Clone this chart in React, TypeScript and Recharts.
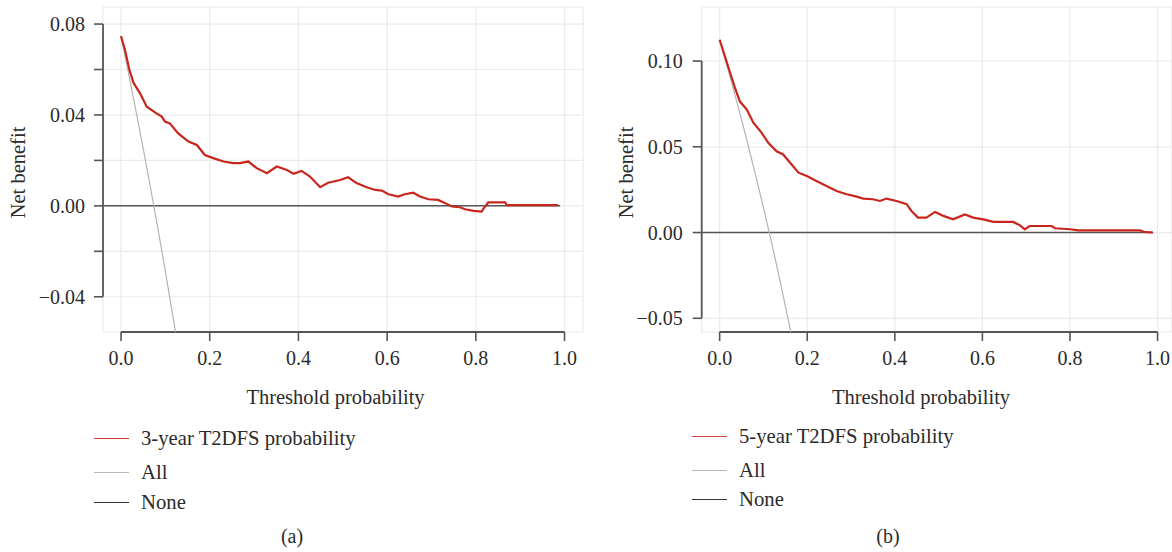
import {CartesianGrid, Line, LineChart, ReferenceLine, XAxis, YAxis} from 'recharts'

const FONT = '"Liberation Serif", "Times New Roman", serif'

// (a) 3-year model: threshold / net benefit
const t3 = [0, 0.009, 0.019, 0.028, 0.043, 0.058, 0.08, 0.092, 0.099, 0.11, 0.129, 0.152, 0.171, 0.189, 0.208,
    0.231, 0.253, 0.268, 0.287, 0.306, 0.329, 0.351, 0.374, 0.389, 0.407, 0.426, 0.449, 0.467, 0.494, 0.512, 0.531,
    0.554, 0.573, 0.588, 0.603, 0.625, 0.64, 0.659, 0.674, 0.693, 0.715, 0.731, 0.746, 0.764, 0.776, 0.795, 0.813,
    0.818, 0.828, 0.866, 0.87, 0.985]
const nb3 = [0.0747, 0.0686, 0.0598, 0.0542, 0.0495, 0.0436, 0.0407, 0.0393, 0.0371, 0.0363, 0.0319, 0.0283, 0.0268,
    0.0224, 0.021, 0.0195, 0.0188, 0.0188, 0.0195, 0.0166, 0.0144, 0.0173, 0.0158, 0.0141, 0.0154, 0.0129, 0.0082,
    0.0102, 0.0114, 0.0126, 0.01, 0.0082, 0.007, 0.0067, 0.0051, 0.0041, 0.0051, 0.0058, 0.0041, 0.0029, 0.0026,
    0.0012, -0.0003, -0.0006, -0.0015, -0.0022, -0.0025, -0.001, 0.0015, 0.0015, 0.0003, 0.0003]
const allT3 = [0, 0.02, 0.04, 0.06, 0.08, 0.1, 0.12, 0.14]
const allNb3 = [0.0747, 0.0553, 0.0355, 0.0149, -0.0065, -0.0288, -0.052, -0.0766]

// (b) 5-year model
const t5 = [0, 0.012, 0.024, 0.035, 0.046, 0.062, 0.077, 0.096, 0.111, 0.13, 0.145, 0.161, 0.18, 0.199, 0.221, 0.244,
    0.267, 0.29, 0.313, 0.328, 0.35, 0.366, 0.381, 0.404, 0.427, 0.438, 0.453, 0.472, 0.492, 0.511, 0.533, 0.56, 0.579,
    0.602, 0.625, 0.67, 0.686, 0.697, 0.708, 0.758, 0.766, 0.8, 0.819, 0.96, 0.968, 0.989]
const nb5 = [0.1124, 0.1027, 0.093, 0.0843, 0.0765, 0.0717, 0.064, 0.0581, 0.0523, 0.0474, 0.0455, 0.0407, 0.0349,
    0.0329, 0.03, 0.0271, 0.0242, 0.0223, 0.0209, 0.0198, 0.0194, 0.0184, 0.0198, 0.0184, 0.0165, 0.0126, 0.0087,
    0.0087, 0.012, 0.0097, 0.0077, 0.0105, 0.0087, 0.0077, 0.0062, 0.0062, 0.0042, 0.0019, 0.0038, 0.0038, 0.0025,
    0.0019, 0.0013, 0.0013, 0.0004, 0]
const allT5 = [0, 0.02, 0.04, 0.06, 0.08, 0.1, 0.12, 0.14, 0.16, 0.18]
const allNb5 = [0.1124, 0.0943, 0.0755, 0.056, 0.0357, 0.0146, -0.0075, -0.0306, -0.055, -0.08]

const noneT = [-0.041, 0.99]
const noneNb = [0, 0]

const xTicks = [0, 0.2, 0.4, 0.6, 0.8, 1.0]
const xTickLabels = ['0.0', '0.2', '0.4', '0.6', '0.8', '1.0']
const yTicksA = [-0.04, -0.02, 0, 0.02, 0.04, 0.06, 0.08]
const yLabelsA = ['\u22120.04', '', '0.00', '', '0.04', '', '0.08']
const yTicksB = [-0.05, 0, 0.05, 0.1]
const yLabelsB = ['\u22120.05', '0.00', '0.05', '0.10']

const legendA = ['3-year T2DFS probability', 'All', 'None']
const legendB = ['5-year T2DFS probability', 'All', 'None']

const RED = '#c8261d'
const GREY = '#b4b4b4'
const DARK = '#555555'
const AXIS = '#555555'
const TEXT = '#2b2b2b'

const zip = (xs: number[], ys: number[]) => xs.map((t, i) => ({t, nb: ys[i]}))
const pick = (ticks: number[], labels: string[]) => (v: number) => {
    const i = ticks.findIndex(t => Math.abs(t - v) < 1e-9)
    return i < 0 ? '' : labels[i]
}

type PanelProps = {
    model: { t: number, nb: number }[]
    all: { t: number, nb: number }[]
    xDomain: [number, number]
    yDomain: [number, number]
    yTicks: number[]
    yLabels: string[]
    marginLeft: number
    marginRight: number
    tickMargin: number
    yTitleX: number
    xTitleX: number
}

function Panel(p: PanelProps) {
    const none = zip(noneT, noneNb)
    const tickStyle = {fontSize: 20, fill: TEXT, fontFamily: FONT}
    const [y0, y1] = [p.yTicks[0], p.yTicks[p.yTicks.length - 1]]
    return (
        <LineChart width={586} height={420}
                   margin={{top: 7, right: p.marginRight, bottom: 48, left: p.marginLeft}}>
            <CartesianGrid stroke="#ebebeb" strokeWidth={1.2}/>
            <XAxis dataKey="t" type="number" domain={p.xDomain} allowDataOverflow
                   ticks={xTicks} interval={0} tickFormatter={pick(xTicks, xTickLabels)}
                   axisLine={false} tickLine={{stroke: AXIS, strokeWidth: 1.6}} tickSize={9} tickMargin={10}
                   height={40} tick={tickStyle}
                   label={{
                       content: () => (
                           <text x={p.xTitleX} y={404} textAnchor="middle" fontSize={20.5} fontFamily={FONT}
                                 fill={TEXT}>Threshold probability</text>
                       )
                   }}/>
            <YAxis dataKey="nb" type="number" domain={p.yDomain} allowDataOverflow
                   ticks={p.yTicks} interval={0} tickFormatter={pick(p.yTicks, p.yLabels)}
                   axisLine={false} tickLine={{stroke: AXIS, strokeWidth: 1.6}} tickSize={9}
                   tickMargin={p.tickMargin} width={60} tick={tickStyle}
                   label={{
                       content: (lp: any) => {
                           const cy = lp.viewBox.y + lp.viewBox.height / 2 + 3
                           return (
                               <text x={p.yTitleX} y={cy} transform={`rotate(-90, ${p.yTitleX}, ${cy})`}
                                     textAnchor="middle" dominantBaseline="central" fontSize={20.5}
                                     fontFamily={FONT} fill={TEXT}>Net benefit</text>
                           )
                       }
                   }}/>
            {/* capped axis lines, ggplot-lemon style */}
            <ReferenceLine segment={[{x: p.xDomain[0], y: y0}, {x: p.xDomain[0], y: y1}]}
                           stroke={AXIS} strokeWidth={1.8} ifOverflow="visible"/>
            <ReferenceLine segment={[{x: 0, y: p.yDomain[0]}, {x: 1, y: p.yDomain[0]}]}
                           stroke={AXIS} strokeWidth={1.8} ifOverflow="visible"/>

            <Line data={none} dataKey="nb" type="linear" stroke={DARK} strokeWidth={1.5} dot={false}
                  isAnimationActive={false}/>
            <Line data={p.all} dataKey="nb" type="linear" stroke={GREY} strokeWidth={1.2} dot={false}
                  isAnimationActive={false}/>
            <Line data={p.model} dataKey="nb" type="linear" stroke={RED} strokeWidth={2.2} dot={false}
                  isAnimationActive={false}/>
        </LineChart>
    )
}

function LegendBlock({items, left, tops}: { items: string[], left: number, tops: number[] }) {
    const colors = ['#d0403a', '#b8b8b8', '#333333']
    return (
        <>
            {items.map((s, i) => (
                <div key={s} style={{
                    position: 'absolute', left, top: tops[i] - 15, height: 30,
                    display: 'flex', alignItems: 'center', fontFamily: FONT, fontSize: 20.7, color: TEXT,
                }}>
                    <span style={{width: 35, borderTop: `1.6px solid ${colors[i]}`, marginRight: 12}}/>
                    <span style={{whiteSpace: 'nowrap'}}>{s}</span>
                </div>
            ))}
        </>
    )
}

export default function App() {
    return (
        <div style={{position: 'absolute', left: 0, top: 0, width: 1172, height: 552, background: '#fff',
            overflow: 'hidden'}}>
            <div style={{position: 'absolute', left: 0, top: 0}}>
                <Panel model={zip(t3, nb3)} all={zip(allT3, allNb3)}
                       xDomain={[-0.0406, 1.0416]} yDomain={[-0.0555, 0.0875]}
                       yTicks={yTicksA} yLabels={yLabelsA}
                       marginLeft={43} marginRight={3} tickMargin={9} yTitleX={17.5} xTitleX={335.5}/>
            </div>
            <div style={{position: 'absolute', left: 586, top: 0}}>
                <Panel model={zip(t5, nb5)} all={zip(allT5, allNb5)}
                       xDomain={[-0.041, 1.033]} yDomain={[-0.058, 0.1315]}
                       yTicks={yTicksB} yLabels={yLabelsB}
                       marginLeft={55.7} marginRight={0} tickMargin={10} yTitleX={40} xTitleX={335}/>
            </div>
            <LegendBlock items={legendA} left={94} tops={[438, 472, 502]}/>
            <LegendBlock items={legendB} left={692} tops={[436, 470, 499]}/>
            <div style={{position: 'absolute', left: 262, width: 60, top: 525, textAlign: 'center',
                fontFamily: FONT, fontSize: 20, color: TEXT}}>(a)
            </div>
            <div style={{position: 'absolute', left: 858, width: 60, top: 525, textAlign: 'center',
                fontFamily: FONT, fontSize: 20, color: TEXT}}>(b)
            </div>
        </div>
    )
}
